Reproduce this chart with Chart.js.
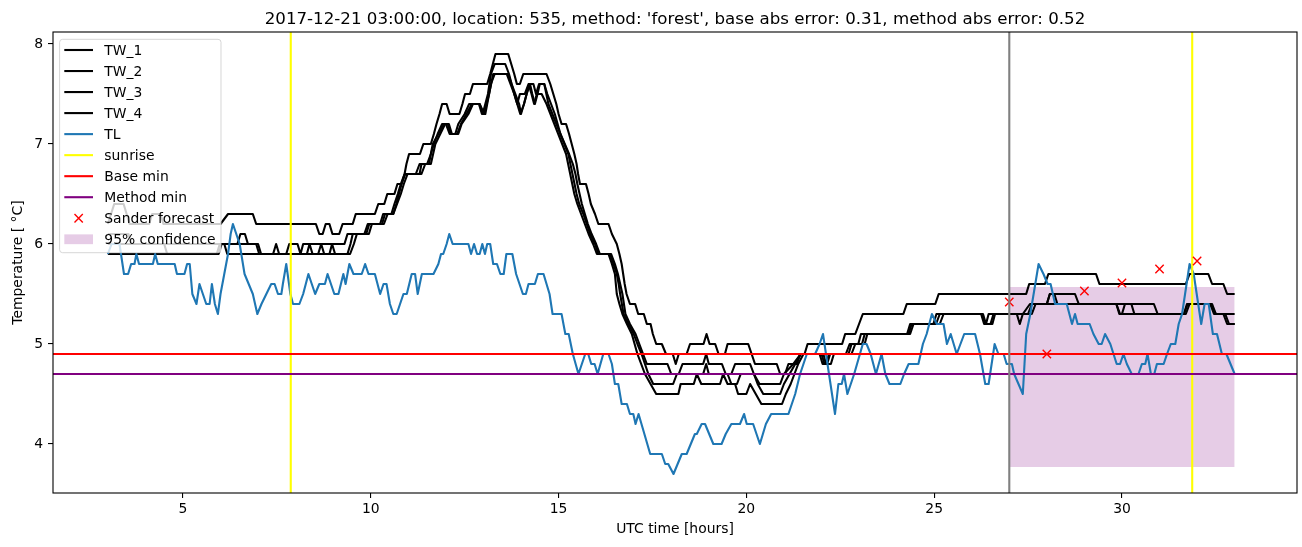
<!DOCTYPE html>
<html><head><meta charset="utf-8">
<script src="https://cdn.jsdelivr.net/npm/chart.js@4.4.0/dist/chart.umd.min.js"></script>
<style>html,body{margin:0;padding:0;background:#fff;}#wrap{width:1302px;height:547px;}</style>
</head><body><div id="wrap"><canvas id="c" width="1302" height="547"></canvas></div>
<script>
// ---- data: [UTC hour, temperature] ----
const tw1 = [[3.0,6.2],[3.17,6.4],[3.42,6.4],[3.58,6.2],[4.1,6.2],[4.18,6.3],[4.4,6.3],[4.48,6.2],[6.0,6.2],[6.2,6.3],[6.86,6.3],[6.95,6.2],[8.54,6.2],[8.63,6.1],[8.72,6.1],[8.8,6.2],[8.9,6.2],[8.98,6.1],[9.16,6.1],[9.25,6.2],[9.52,6.2],[9.6,6.3],[10.11,6.3],[10.2,6.4],[10.36,6.4],[10.44,6.5],[10.63,6.5],[10.71,6.6],[10.82,6.6],[10.9,6.7],[10.95,6.8],[11.02,6.9],[11.31,6.9],[11.4,7.0],[11.6,7.0],[11.68,7.1],[11.75,7.2],[11.83,7.3],[11.9,7.4],[12.02,7.4],[12.1,7.3],[12.36,7.3],[12.44,7.4],[12.51,7.5],[12.64,7.5],[12.72,7.6],[13.1,7.6],[13.18,7.7],[13.25,7.8],[13.32,7.9],[13.66,7.9],[13.74,7.8],[13.82,7.7],[13.89,7.6],[13.97,7.6],[14.06,7.7],[14.68,7.7],[14.78,7.6],[14.86,7.5],[14.94,7.4],[15.0,7.3],[15.08,7.2],[15.2,7.2],[15.28,7.1],[15.35,7.0],[15.42,6.9],[15.48,6.8],[15.52,6.7],[15.57,6.6],[15.73,6.6],[15.8,6.5],[15.86,6.4],[15.97,6.3],[16.06,6.2],[16.33,6.2],[16.42,6.1],[16.55,6.0],[16.62,5.9],[16.68,5.8],[16.72,5.7],[16.76,5.6],[16.81,5.5],[16.9,5.4],[17.04,5.4],[17.12,5.3],[17.27,5.3],[17.35,5.2],[17.45,5.2],[17.51,5.1],[17.6,5.0],[17.75,5.0],[17.86,4.9],[18.04,4.9],[18.12,4.8],[18.2,4.9],[18.41,4.9],[18.5,5.0],[18.86,5.0],[18.94,5.1],[19.02,5.0],[19.17,5.0],[19.26,4.9],[19.43,4.9],[19.5,5.0],[20.05,5.0],[20.14,4.9],[20.23,4.8],[20.81,4.8],[20.9,4.7],[21.03,4.7],[21.12,4.8],[21.35,4.8],[21.43,4.9],[21.55,4.9],[21.63,5.0],[22.55,5.0],[22.63,5.1],[22.9,5.1],[23.0,5.2],[23.1,5.3],[24.18,5.3],[24.27,5.4],[25.03,5.4],[25.12,5.5],[27.45,5.5],[27.53,5.6],[27.95,5.6],[28.04,5.7],[29.31,5.7],[29.4,5.6],[31.7,5.6],[31.8,5.7],[32.3,5.7],[32.4,5.6],[32.7,5.6],[32.8,5.5],[33.0,5.5]];
const tw2 = [[3.0,6.1],[3.55,6.1],[3.63,6.0],[6.45,6.0],[6.53,6.1],[6.65,6.1],[6.73,6.0],[7.0,6.0],[7.08,5.9],[7.75,5.9],[7.83,6.0],[8.05,6.0],[8.13,5.9],[8.2,6.0],[9.3,6.0],[9.38,6.1],[9.83,6.1],[9.92,6.2],[10.25,6.2],[10.33,6.3],[10.6,6.3],[10.68,6.4],[10.75,6.5],[10.82,6.6],[10.92,6.7],[11.2,6.7],[11.3,6.8],[11.5,6.8],[11.6,6.9],[11.68,7.0],[11.78,7.1],[11.9,7.2],[12.0,7.2],[12.1,7.1],[12.25,7.1],[12.33,7.2],[12.5,7.3],[12.62,7.4],[12.9,7.4],[12.98,7.3],[13.05,7.4],[13.12,7.5],[13.2,7.7],[13.3,7.8],[13.58,7.8],[13.68,7.7],[13.75,7.6],[13.82,7.5],[13.9,7.4],[13.98,7.3],[14.08,7.4],[14.15,7.5],[14.22,7.6],[14.33,7.6],[14.4,7.5],[14.48,7.6],[14.62,7.6],[14.7,7.5],[14.8,7.4],[14.9,7.3],[15.05,7.1],[15.28,6.9],[15.38,6.8],[15.45,6.7],[15.5,6.6],[15.56,6.5],[15.62,6.4],[15.7,6.3],[15.78,6.2],[15.88,6.1],[16.0,6.0],[16.1,5.9],[16.4,5.9],[16.5,5.8],[16.58,5.7],[16.64,5.6],[16.7,5.5],[16.78,5.3],[16.9,5.2],[17.05,5.1],[17.15,5.0],[17.25,4.9],[17.35,4.8],[17.9,4.8],[18.0,4.7],[18.2,4.7],[18.3,4.8],[18.85,4.8],[18.93,4.9],[19.0,4.8],[19.35,4.8],[19.45,4.7],[19.6,4.7],[19.7,4.8],[20.1,4.8],[20.2,4.7],[20.35,4.6],[20.9,4.6],[21.0,4.7],[21.25,4.8],[21.45,4.9],[22.05,4.9],[22.12,4.8],[22.2,4.9],[22.65,4.9],[22.75,5.0],[22.98,5.0],[23.05,5.1],[24.28,5.1],[24.36,5.2],[24.98,5.2],[25.06,5.3],[26.27,5.3],[26.35,5.2],[26.5,5.2],[26.58,5.3],[27.5,5.3],[27.6,5.4],[28.0,5.4],[28.08,5.5],[28.75,5.5],[28.85,5.4],[30.85,5.4],[30.95,5.3],[31.65,5.3],[31.75,5.4],[32.35,5.4],[32.45,5.3],[33.0,5.3]];
const tw3 = [[3.0,6.0],[4.5,6.0],[4.58,5.9],[5.95,5.9],[6.03,6.0],[6.95,6.0],[7.03,5.9],[8.3,5.9],[8.37,6.0],[8.45,5.9],[8.9,5.9],[8.97,6.0],[9.05,5.9],[9.38,5.9],[9.46,6.0],[9.52,6.1],[9.88,6.1],[9.96,6.2],[10.3,6.2],[10.38,6.3],[10.55,6.3],[10.63,6.4],[10.72,6.5],[10.8,6.6],[10.9,6.7],[11.3,6.7],[11.35,6.8],[11.55,6.8],[11.65,7.0],[11.8,7.1],[11.95,7.2],[12.05,7.2],[12.13,7.1],[12.3,7.1],[12.4,7.2],[12.55,7.3],[12.69,7.4],[12.9,7.4],[13.02,7.3],[13.15,7.5],[13.26,7.7],[13.66,7.7],[13.75,7.6],[13.85,7.5],[13.95,7.4],[14.0,7.3],[14.08,7.4],[14.15,7.5],[14.24,7.6],[14.3,7.5],[14.37,7.4],[14.44,7.5],[14.5,7.6],[14.62,7.6],[14.73,7.4],[15.26,6.9],[15.48,6.5],[15.55,6.4],[15.66,6.3],[15.75,6.2],[15.84,6.1],[15.97,6.0],[16.06,5.9],[16.37,5.9],[16.46,5.8],[16.55,5.7],[16.6,5.6],[16.64,5.5],[16.73,5.3],[16.86,5.2],[17.0,5.1],[17.1,5.0],[17.21,4.9],[17.3,4.8],[17.39,4.7],[17.52,4.6],[18.05,4.6],[18.15,4.7],[18.85,4.7],[18.93,4.8],[19.0,4.7],[19.5,4.7],[19.6,4.6],[19.75,4.6],[19.85,4.7],[20.2,4.7],[20.3,4.6],[20.45,4.5],[20.9,4.5],[21.0,4.6],[21.15,4.7],[21.3,4.8],[21.45,4.9],[21.95,4.9],[22.03,4.8],[22.15,4.8],[22.23,4.9],[22.72,4.9],[22.8,5.0],[23.08,5.0],[23.15,5.1],[24.32,5.1],[24.4,5.2],[25.05,5.2],[25.15,5.3],[26.3,5.3],[26.38,5.2],[26.45,5.3],[27.2,5.3],[27.28,5.2],[27.36,5.3],[27.55,5.4],[28.0,5.4],[28.08,5.5],[28.2,5.5],[28.28,5.4],[29.85,5.4],[29.93,5.3],[30.0,5.3],[30.08,5.4],[30.25,5.4],[30.33,5.3],[31.65,5.3],[31.73,5.4],[32.35,5.4],[32.5,5.3],[32.75,5.3],[32.85,5.2],[33.0,5.2]];
const tw4 = [[3.0,5.9],[5.9,5.9],[5.98,6.0],[6.1,6.0],[6.18,5.9],[7.4,5.9],[7.48,6.0],[7.56,5.9],[8.6,5.9],[8.68,6.0],[8.76,5.9],[9.45,5.9],[9.55,6.0],[9.63,6.1],[9.95,6.1],[10.03,6.2],[10.35,6.2],[10.45,6.3],[10.6,6.3],[10.7,6.4],[10.8,6.5],[10.88,6.6],[10.98,6.7],[11.35,6.7],[11.45,6.8],[11.6,6.8],[11.72,7.0],[11.85,7.1],[11.98,7.2],[12.08,7.2],[12.16,7.1],[12.33,7.1],[12.42,7.2],[12.6,7.3],[12.72,7.4],[12.88,7.4],[12.96,7.3],[13.05,7.3],[13.2,7.6],[13.3,7.7],[13.62,7.7],[13.72,7.6],[13.82,7.5],[13.9,7.4],[13.97,7.5],[14.1,7.5],[14.2,7.6],[14.28,7.5],[14.35,7.4],[14.42,7.5],[14.55,7.5],[14.68,7.4],[15.2,6.9],[15.42,6.5],[15.5,6.4],[15.6,6.3],[15.7,6.2],[15.8,6.1],[15.92,6.0],[16.02,5.9],[16.33,5.9],[16.42,5.8],[16.5,5.7],[16.55,5.5],[16.62,5.4],[16.7,5.3],[16.82,5.2],[16.95,5.1],[17.1,4.9],[17.2,4.8],[17.3,4.7],[17.45,4.6],[17.6,4.5],[18.19,4.5],[18.25,4.6],[18.6,4.6],[18.68,4.7],[18.8,4.6],[19.3,4.6],[19.38,4.7],[19.5,4.6],[19.7,4.6],[19.78,4.5],[20.0,4.5],[20.1,4.6],[20.25,4.5],[20.4,4.4],[20.95,4.4],[21.05,4.5],[21.18,4.6],[21.28,4.7],[21.38,4.8],[21.52,4.9],[22.0,4.9],[22.08,4.8],[22.25,4.8],[22.33,4.9],[22.8,4.9],[22.9,5.0],[23.15,5.0],[23.22,5.1],[24.36,5.1],[24.45,5.2],[25.15,5.2],[25.25,5.3],[26.25,5.3],[26.33,5.2],[26.55,5.2],[26.62,5.3],[27.6,5.3],[27.7,5.4],[29.85,5.4],[29.95,5.3],[31.7,5.3],[31.8,5.4],[32.4,5.4],[32.5,5.3],[32.7,5.3],[32.8,5.2],[33.0,5.2]];
const tl = [[3.0,5.9],[3.1,6.0],[3.31,6.0],[3.43,5.7],[3.54,5.7],[3.62,5.8],[3.71,5.8],[3.76,5.9],[3.83,5.8],[4.2,5.8],[4.26,5.9],[4.33,5.8],[4.78,5.8],[4.84,5.7],[5.04,5.7],[5.11,5.8],[5.18,5.8],[5.25,5.5],[5.36,5.4],[5.44,5.6],[5.53,5.5],[5.62,5.4],[5.71,5.4],[5.77,5.6],[5.85,5.4],[5.93,5.3],[6.0,5.5],[6.1,5.7],[6.2,5.9],[6.27,6.1],[6.33,6.2],[6.42,6.1],[6.51,6.0],[6.64,5.7],[6.75,5.6],[6.86,5.5],[6.98,5.3],[7.09,5.4],[7.22,5.5],[7.35,5.6],[7.44,5.6],[7.53,5.5],[7.62,5.5],[7.66,5.6],[7.75,5.8],[7.86,5.5],[7.93,5.4],[8.1,5.4],[8.2,5.5],[8.34,5.7],[8.52,5.5],[8.63,5.6],[8.78,5.6],[8.85,5.7],[9.03,5.5],[9.14,5.5],[9.27,5.7],[9.33,5.6],[9.43,5.8],[9.54,5.7],[9.76,5.7],[9.85,5.8],[9.94,5.7],[10.11,5.7],[10.25,5.5],[10.34,5.6],[10.42,5.6],[10.51,5.4],[10.6,5.3],[10.69,5.3],[10.87,5.5],[10.96,5.5],[11.09,5.7],[11.18,5.7],[11.25,5.5],[11.36,5.7],[11.67,5.7],[11.8,5.8],[11.87,5.9],[11.93,5.9],[12.02,6.0],[12.09,6.1],[12.18,6.0],[12.6,6.0],[12.67,5.9],[12.75,6.0],[12.83,5.9],[12.9,5.9],[12.97,6.0],[13.04,5.9],[13.1,6.0],[13.18,6.0],[13.26,5.8],[13.36,5.8],[13.45,5.7],[13.54,5.7],[13.61,5.9],[13.77,5.9],[13.87,5.7],[14.05,5.5],[14.13,5.5],[14.2,5.6],[14.37,5.6],[14.45,5.7],[14.6,5.7],[14.76,5.5],[14.84,5.3],[15.08,5.3],[15.18,5.1],[15.27,5.1],[15.38,4.9],[15.53,4.7],[15.71,4.9],[15.79,4.9],[15.87,4.8],[15.96,4.8],[16.04,4.7],[16.19,4.9],[16.33,4.9],[16.42,4.8],[16.5,4.6],[16.59,4.6],[16.68,4.4],[16.82,4.4],[16.9,4.3],[16.99,4.3],[17.05,4.2],[17.13,4.3],[17.44,3.9],[17.75,3.9],[17.84,3.8],[17.92,3.8],[18.06,3.7],[18.28,3.9],[18.41,3.9],[18.63,4.1],[18.68,4.1],[18.81,4.2],[18.9,4.2],[19.12,4.0],[19.34,4.0],[19.45,4.1],[19.6,4.2],[19.83,4.2],[19.94,4.3],[20.01,4.2],[20.18,4.2],[20.36,4.0],[20.52,4.2],[20.66,4.3],[21.12,4.3],[21.3,4.5],[21.43,4.7],[21.52,4.8],[21.61,4.9],[21.83,4.9],[21.95,5.0],[22.04,5.1],[22.2,4.7],[22.36,4.3],[22.45,4.6],[22.54,4.6],[22.6,4.7],[22.69,4.5],[22.87,4.7],[23.1,5.0],[23.2,5.0],[23.31,4.9],[23.45,4.7],[23.6,4.9],[23.7,4.7],[23.81,4.6],[24.1,4.6],[24.2,4.7],[24.32,4.8],[24.58,4.8],[24.7,5.0],[24.8,5.1],[24.94,5.3],[25.07,5.2],[25.25,5.2],[25.34,5.0],[25.44,5.1],[25.6,4.9],[25.8,5.1],[26.09,5.1],[26.22,4.9],[26.36,4.6],[26.45,4.6],[26.61,5.0],[26.71,4.9],[26.85,4.9],[26.93,4.8],[27.07,4.8],[27.13,4.7],[27.36,4.5],[27.45,5.1],[27.56,5.3],[27.78,5.8],[27.91,5.7],[28.02,5.6],[28.1,5.6],[28.22,5.4],[28.53,5.4],[28.67,5.2],[28.75,5.3],[28.82,5.2],[29.14,5.2],[29.24,5.1],[29.38,5.0],[29.46,5.0],[29.55,5.1],[29.69,5.0],[29.86,4.8],[29.95,4.8],[30.04,4.9],[30.13,4.8],[30.26,4.7],[30.44,4.7],[30.53,4.8],[30.62,4.8],[30.68,4.9],[30.77,4.7],[30.86,4.7],[30.93,4.8],[31.11,4.8],[31.2,4.9],[31.3,5.0],[31.42,5.0],[31.51,5.2],[31.6,5.3],[31.68,5.5],[31.8,5.8],[31.91,5.7],[32.11,5.2],[32.2,5.4],[32.31,5.4],[32.42,5.1],[32.53,5.1],[32.66,4.9],[32.78,4.9],[33.0,4.7]];
const sunriseHours = [7.87, 31.87];
const forecastHours = [27, 28, 29, 30, 31, 32];
const forecastValues = [5.42, 4.90, 5.53, 5.61, 5.75, 5.83];
const baseMin = 4.90;
const methodMin = 4.70;
const forecastStart = 27.0;
const bandHours = [27, 33];
const bandLow = 3.77;
const bandHigh = 5.57;
const xTicks = [5, 10, 15, 20, 25, 30];
const yTicks = [4, 5, 6, 7, 8];
const xRange = [1.54, 34.66];
const yRange = [3.51, 8.12];
const titleText = "2017-12-21 03:00:00, location: 535, method: 'forest', base abs error: 0.31, method abs error: 0.52";
const legendItems = [
  {label:'TW_1', kind:'line', color:'#000000'},
  {label:'TW_2', kind:'line', color:'#000000'},
  {label:'TW_3', kind:'line', color:'#000000'},
  {label:'TW_4', kind:'line', color:'#000000'},
  {label:'TL', kind:'line', color:'#1f77b4'},
  {label:'sunrise', kind:'line', color:'#ffff00'},
  {label:'Base min', kind:'line', color:'#ff0000'},
  {label:'Method min', kind:'line', color:'#800080'},
  {label:'Sander forecast', kind:'x', color:'#ff0000'},
  {label:'95% confidence', kind:'patch', color:'rgba(128,0,128,0.2)'}
];

const FONT = '"DejaVu Sans", "Liberation Sans", sans-serif';
Chart.defaults.font.family = FONT;
Chart.defaults.color = '#000';

const toXY = arr => arr.map(p => ({x:p[0], y:p[1]}));
const lineDs = (data, color, order) => ({
  data, borderColor: color, backgroundColor: color, borderWidth: 2.1,
  pointRadius: 0, pointHoverRadius: 0, tension: 0, fill: false,
  borderJoinStyle: 'round', order
});

const datasets = [
  {data: bandHours.map(h => ({x:h, y:bandLow})), borderWidth:0, pointRadius:0, fill:false, order:101, borderColor:'rgba(0,0,0,0)'},
  {data: bandHours.map(h => ({x:h, y:bandHigh})), borderWidth:0, pointRadius:0, fill:'-1', backgroundColor:'rgba(128,0,128,0.2)', borderColor:'rgba(0,0,0,0)', order:100},
  lineDs(toXY(tw1), '#000000', 20),
  lineDs(toXY(tw2), '#000000', 19),
  lineDs(toXY(tw3), '#000000', 18),
  lineDs(toXY(tw4), '#000000', 17),
  lineDs(toXY(tl), '#1f77b4', 16),
  ...sunriseHours.map(h => lineDs([{x:h,y:yRange[0]},{x:h,y:yRange[1]}], '#ffff00', 15)),
  lineDs([{x:xRange[0],y:baseMin},{x:xRange[1],y:baseMin}], '#ff0000', 14),
  lineDs([{x:xRange[0],y:methodMin},{x:xRange[1],y:methodMin}], '#800080', 13),
  {data: forecastHours.map((h,i) => ({x:h, y:forecastValues[i]})), showLine:false, pointStyle:'crossRot',
   pointRadius:5.9, pointBorderColor:'#ff0000', pointBorderWidth:1.4, borderColor:'#ff0000', backgroundColor:'#ff0000', order:12},
  lineDs([{x:forecastStart,y:yRange[0]},{x:forecastStart,y:yRange[1]}], '#808080', 11)
];

const decor = {
  id: 'decor',
  afterDraw(chart) {
    const ctx = chart.ctx, a = chart.chartArea;
    ctx.save();
    ctx.strokeStyle = '#000'; ctx.lineWidth = 1.1;
    ctx.strokeRect(a.left, a.top, a.right - a.left, a.bottom - a.top);
    ctx.fillStyle = '#000';
    ctx.font = '16.67px ' + FONT;
    ctx.textAlign = 'center'; ctx.textBaseline = 'alphabetic';
    ctx.fillText(titleText, (a.left + a.right) / 2, 24);
    const bx = a.left + 6.6, by = a.top + 7.3, bw = 161.4, bh = 213.4, r = 3;
    ctx.beginPath();
    ctx.moveTo(bx + r, by); ctx.lineTo(bx + bw - r, by); ctx.quadraticCurveTo(bx + bw, by, bx + bw, by + r);
    ctx.lineTo(bx + bw, by + bh - r); ctx.quadraticCurveTo(bx + bw, by + bh, bx + bw - r, by + bh);
    ctx.lineTo(bx + r, by + bh); ctx.quadraticCurveTo(bx, by + bh, bx, by + bh - r);
    ctx.lineTo(bx, by + r); ctx.quadraticCurveTo(bx, by, bx + r, by); ctx.closePath();
    ctx.fillStyle = 'rgba(255,255,255,0.8)'; ctx.fill();
    ctx.strokeStyle = 'rgba(204,204,204,0.8)'; ctx.lineWidth = 1; ctx.stroke();
    ctx.font = '13.9px ' + FONT; ctx.textAlign = 'left'; ctx.textBaseline = 'alphabetic';
    const hx0 = bx + 4.7, hx1 = bx + 33.4, tx = bx + 44.7;
    legendItems.forEach((it, i) => {
      const cy = by + 10.7 + i * 21.03;
      if (it.kind === 'line') {
        ctx.strokeStyle = it.color; ctx.lineWidth = 2.1;
        ctx.beginPath(); ctx.moveTo(hx0, cy); ctx.lineTo(hx1, cy); ctx.stroke();
      } else if (it.kind === 'x') {
        const cx = (hx0 + hx1) / 2, s = 4.15;
        ctx.strokeStyle = it.color; ctx.lineWidth = 1.4;
        ctx.beginPath(); ctx.moveTo(cx - s, cy - s); ctx.lineTo(cx + s, cy + s);
        ctx.moveTo(cx - s, cy + s); ctx.lineTo(cx + s, cy - s); ctx.stroke();
      } else {
        ctx.fillStyle = it.color; ctx.fillRect(hx0, cy - 4.9, hx1 - hx0, 9.8);
      }
      ctx.fillStyle = '#000';
      ctx.fillText(it.label, tx, cy + 5.2);
    });
    ctx.restore();
  }
};

new Chart(document.getElementById('c'), {
  type: 'line',
  data: { datasets },
  options: {
    responsive: false, animation: false, devicePixelRatio: 1,
    layout: { autoPadding: false, padding: { top: 32, right: 5, bottom: 0, left: 0 } },
    plugins: { legend: { display: false }, tooltip: { enabled: false }, title: { display: false } },
    scales: {
      x: {
        type: 'linear', min: xRange[0], max: xRange[1],
        afterBuildTicks: s => { s.ticks = xTicks.map(v => ({value: v})); },
        afterFit: s => { s.height = 54; },
        grid: { display: true, drawOnChartArea: false, drawTicks: true, tickLength: 5, color: '#000', lineWidth: 1.1 },
        border: { display: false },
        ticks: { font: { size: 13.9 }, color: '#000', padding: 3, maxRotation: 0, autoSkip: false, callback: v => String(v) },
        title: { display: true, text: 'UTC time [hours]', font: { size: 13.9 }, color: '#000', padding: { top: 0, bottom: 9.7 } }
      },
      y: {
        type: 'linear', min: yRange[0], max: yRange[1],
        afterBuildTicks: s => { s.ticks = yTicks.map(v => ({value: v})); },
        afterFit: s => { s.width = 53; },
        grid: { display: true, drawOnChartArea: false, drawTicks: true, tickLength: 5, color: '#000', lineWidth: 1.1 },
        border: { display: false },
        ticks: { font: { size: 13.9 }, color: '#000', padding: 5, autoSkip: false, callback: v => String(v) },
        title: { display: true, text: 'Temperature [ \u00B0C]', font: { size: 13.9 }, color: '#000', padding: { top: 10, bottom: 0 } }
      }
    }
  },
  plugins: [decor]
});
</script>
</body></html>
